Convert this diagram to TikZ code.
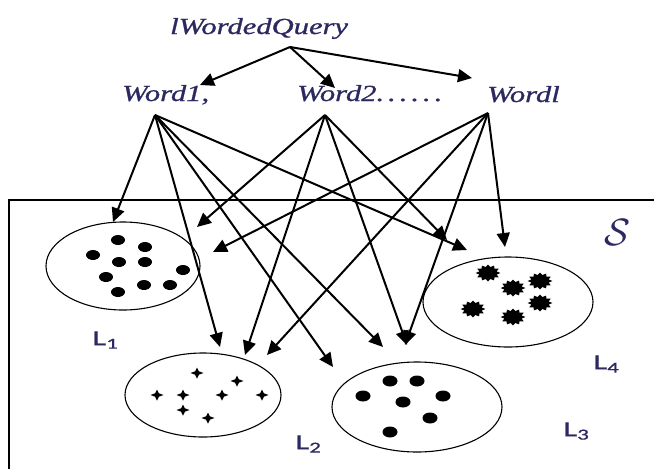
\documentclass[tikz,border=0pt]{standalone}
\usepackage{fontspec}
\usepackage{graphicx}
\usetikzlibrary{arrows.meta,shapes.geometric}
\newfontfamily\wordfont[ItalicFeatures={FakeBold=0.8}]{Liberation Serif}
\newfontfamily\labfont[FakeBold=0.6]{Carlito}
\definecolor{txt}{RGB}{44,40,96}
\tikzset{
  conn/.style={line width=2pt, -{Triangle[length=14pt,width=13pt]}},
  setshape/.style={draw, ellipse, line width=1.1pt, inner sep=0pt},
  wlabel/.style={anchor=base west, inner sep=0pt, text=txt, font=\wordfont\itshape\fontsize{23}{25}\selectfont},
  llabel/.style={anchor=center, inner sep=0pt, text=txt},
  splat/.pic={\fill[black,xscale=1.45] (0:8.5) \foreach \a in {15,30,...,345}{ -- (\a:{mod(\a,30)==0 ? 8.5 : 6.2}) } -- cycle;},
  plusmark/.pic={\fill[black] (-6.5,0) -- (-1.9,-1.7) -- (0,-5.5) -- (1.9,-1.7) -- (6.5,0) -- (1.9,1.7) -- (0,5.5) -- (-1.9,1.7) -- cycle;}
}
\newcommand\wstretch[1]{\scalebox{1.33}[1]{#1}}
\newcommand\llab[1]{\resizebox{27pt}{14pt}{\labfont L\textsubscript{#1}}}
\begin{document}
\begin{tikzpicture}[x=1pt,y=-1pt]
\fill[white] (0,0) rectangle (654,469);
\useasboundingbox (0,0) rectangle (654,469);
% universe frame (cropped)
\draw[line width=1.5pt] (9,469) -- (9,200) -- (654,200);

% words
\node[wlabel] (q) at (170,34) {\wstretch{lWordedQuery}};
\node[wlabel] (w1) at (122,101) {\wstretch{Word1,}};
\node[wlabel] (w2) at (297,101) {\wstretch{Word2.\kern3pt.\kern3pt.\kern3pt.\kern3pt.\kern3pt.}};
\node[wlabel] (wl) at (487,102) {\wstretch{Wordl}};

% sets
\node[setshape, minimum width=154pt, minimum height=88pt] (E1) at (123,266) {};
\node[setshape, minimum width=156pt, minimum height=84pt] (E2) at (203,395) {};
\node[setshape, minimum width=170pt, minimum height=90pt] (E3) at (417,407) {};
\node[setshape, minimum width=170pt, minimum height=90pt] (E4) at (508,302) {};

% contents
\foreach \p in {(118,240),(145,247),(93,255),(119,262),(145,262),(183,270),(106,277),(144,285),(170,285),(118,292)}
  \fill \p ellipse [x radius=7pt, y radius=5pt];
\foreach \p in {(197,373),(237,381),(157,395),(183,395),(222,395),(262,395),(183,410),(208,418)}
  \pic at \p {plusmark};
\foreach \p in {(390,381),(417,381),(363,396),(443,396),(403,402),(430,418),(390,432)}
  \fill \p ellipse [x radius=7.5pt, y radius=5.5pt];
\foreach \p in {(488,273),(540,281),(513,288),(540,303),(473,309),(513,317)}
  \pic at \p {splat};

% labels
\node[llabel] (L1) at (106,340) {\llab{1}};
\node[llabel] (L2) at (309,444) {\llab{2}};
\node[llabel] (L3) at (577,431) {\llab{3}};
\node[llabel] (L4) at (607,364) {\llab{4}};
\node[llabel] (S) at (617,232) {\resizebox{26pt}{26pt}{$\mathcal{S}$}};

% connector points
\coordinate (qs) at (290,47);
\coordinate (q1) at (200,85);
\coordinate (q2) at (335,88);
\coordinate (q3) at (472,78);
\coordinate (s1) at (155,115);
\coordinate (s2) at (325,115);
\coordinate (s3) at (488,113);

\coordinate (a11) at (113,222);
\coordinate (a12) at (220,347);
\coordinate (a13) at (333,367);
\coordinate (a14) at (383,347);
\coordinate (a15) at (467,250);
\coordinate (a21) at (197,227);
\coordinate (a22) at (245,355);
\coordinate (a23) at (407,345);
\coordinate (a24) at (447,240);
\coordinate (a31) at (213,252);
\coordinate (a32) at (267,355);
\coordinate (a33) at (405,345);
\coordinate (a34) at (505,247);

% query to words
\draw[conn] (qs) -- (q1);
\draw[conn] (qs) -- (q2);
\draw[conn] (qs) -- (q3);

% words to sets
\foreach \t in {a11,a12,a13,a14,a15} \draw[conn] (s1) -- (\t);
\foreach \t in {a21,a22,a23,a24} \draw[conn] (s2) -- (\t);
\foreach \t in {a31,a32,a33,a34} \draw[conn] (s3) -- (\t);
\end{tikzpicture}
\end{document}
